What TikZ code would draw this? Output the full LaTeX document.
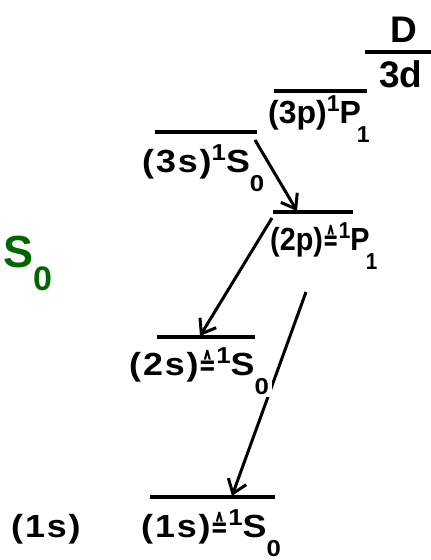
\documentclass[tikz,border=0pt]{standalone}
\usepackage{fontspec}
\usepackage{graphicx}
\setmainfont{Liberation Sans}
\newfontfamily\lvlfont[FakeStretch=1.12, LetterSpace=6]{Liberation Sans}
\newfontfamily\lvltight{Liberation Sans}
\newfontfamily\symfont{DejaVu Sans}
\usetikzlibrary{arrows.meta}
\definecolor{stategreen}{HTML}{006600}
\newcommand\lsup[1]{\raisebox{12pt}{\fontsize{23}{23}\selectfont #1}}
\newcommand\lsub[1]{\raisebox{-19pt}{\fontsize{23}{23}\selectfont #1}}
\newcommand\corr{\scalebox{0.7}[1]{\symfont\fontsize{30}{30}\selectfont ≙}}
\tikzset{
  lvl/.style={line width=3.5pt},
  trans/.style={line width=3pt, -{Straight Barb[length=13pt,width=19pt]}},
  term/.style={font=\lvlfont\bfseries\fontsize{32}{32}\selectfont, anchor=base west, inner sep=0pt},
  pterm/.style={term, font=\lvltight\bfseries\fontsize{32}{32}\selectfont},
  big/.style={font=\bfseries\fontsize{37}{37}\selectfont, anchor=base west, inner sep=0pt},
}
\begin{document}
\begin{tikzpicture}[x=1pt, y=-1pt]
  \useasboundingbox (0,0) rectangle (431,560);
  % levels
  \coordinate (d-w) at (365,52);  \coordinate (d-e) at (431,52);
  \coordinate (p3-w) at (274,91); \coordinate (p3-e) at (367,91);
  \coordinate (s3-w) at (155,132); \coordinate (s3-e) at (257,132);
  \coordinate (p2-w) at (273,212); \coordinate (p2-e) at (353,212);
  \coordinate (s2-w) at (157,337); \coordinate (s2-e) at (255,337);
  \coordinate (s1-w) at (150,497); \coordinate (s1-e) at (275,497);
  \foreach \lv in {d, p3, s3, p2, s2, s1}
    \draw[lvl] (\lv-w) -- (\lv-e);

  % transition ends
  \coordinate (t1-from) at (255,140); \coordinate (t1-to) at (297,211);
  \coordinate (t2-from) at (272,218); \coordinate (t2-to) at (200,336);
  \coordinate (t3-from) at (306,292); \coordinate (t3-to) at (232,496);

  \draw[trans] (t3-from) -- (t3-to);

  % terms
  \node[big] (dlab) at (390,42) {D};
  \node[big] (nlab) at (379,87) {3d};
  \node[pterm] (p3lab) at (268,123) {(3p)\lsup{1}P\kern-4pt\lsub{1}};
  \node[term] (s3lab) at (142,172) {(3s)\lsup{1}S\lsub{0}};
  \node[pterm] (p2lab) at (270,250) {\scalebox{0.9}[1]{(2p)\corr\lsup{1}P\kern-4pt\lsub{1}}};
  \node[term, fill=white, inner sep=3pt] (s2lab) at (126,375) {(2s)\corr\lsup{1}S\lsub{0}};
  \node[term] (s1lab) at (141,537) {(1s)\corr\lsup{1}S\lsub{0}};
  \node[term] (core) at (11,537) {(1s)};
  \node[anchor=base west, inner sep=0pt, text=stategreen,
        font=\bfseries\fontsize{45}{45}\selectfont] (state) at (3,267)
    {S\raisebox{-23pt}{\fontsize{34}{34}\selectfont 0}};

  \draw[trans] (t1-from) -- (t1-to);
  \draw[trans] (t2-from) -- (t2-to);
\end{tikzpicture}
\end{document}
